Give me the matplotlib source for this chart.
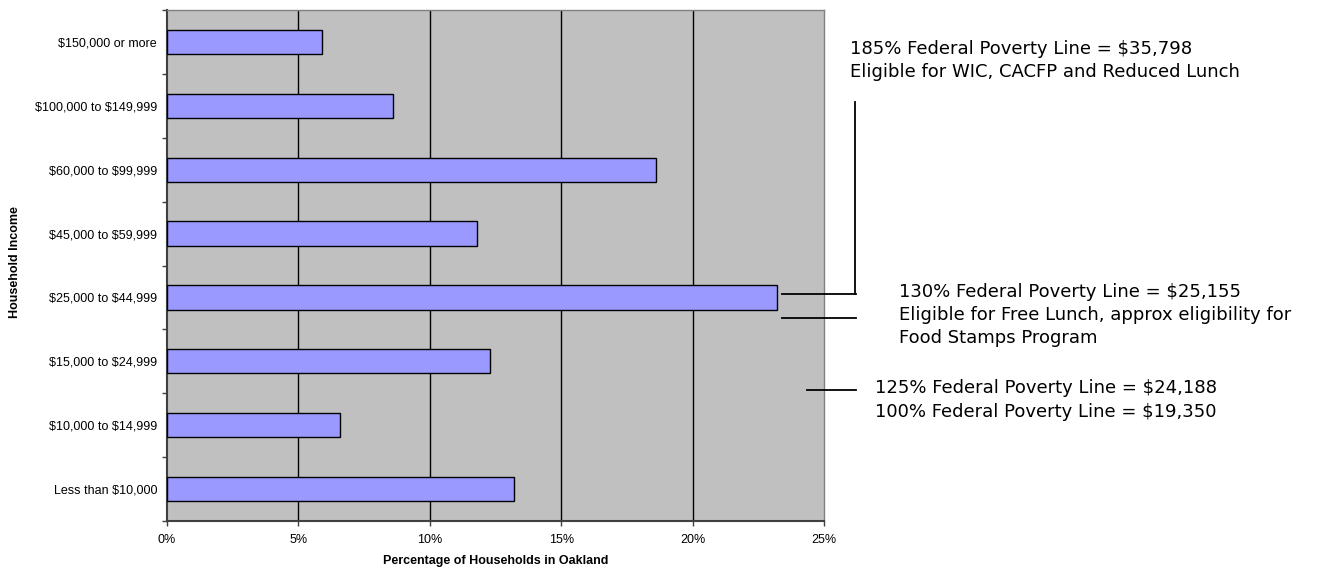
import matplotlib
matplotlib.use("Agg")
import matplotlib.pyplot as plt
from matplotlib.lines import Line2D
import numpy as np

categories = ["Less than $10,000", "$10,000 to $14,999", "$15,000 to $24,999",
              "$25,000 to $44,999", "$45,000 to $59,999", "$60,000 to $99,999",
              "$100,000 to $149,999", "$150,000 or more"]
values = [13.2, 6.6, 12.3, 23.2, 11.8, 18.6, 8.6, 5.9]
xticks = [0, 5, 10, 15, 20, 25]
xtick_labels = ["0%", "5%", "10%", "15%", "20%", "25%"]

W, H = 1339, 571
fig = plt.figure(figsize=(W / 100, H / 100), dpi=100)
fig.patch.set_facecolor("white")

def fx(px):
    return px / W

def fy(py):
    return 1 - py / H

L, R, T, B = 167, 824, 10, 521
ax = fig.add_axes([fx(L), fy(B), fx(R) - fx(L), fy(T) - fy(B)])
ax.set_facecolor("#C0C0C0")

y = np.arange(len(categories))
ax.barh(y, values, height=0.38, color="#9999FF", edgecolor="black", linewidth=1.0, zorder=3)

ax.set_xlim(0, 25)
ax.set_ylim(-0.5, len(categories) - 0.5)
ax.set_xticks(xticks)
ax.set_xticklabels(xtick_labels, fontsize=9, family="Liberation Sans")
ax.set_yticks(y)
ax.set_yticklabels([c.replace("$", r"\$") for c in categories], fontsize=9, family="Liberation Sans")
ax.tick_params(axis="y", which="major", length=0, pad=7.2)
ax.set_yticks(np.arange(-0.5, len(categories), 1.0), minor=True)
ax.tick_params(axis="y", which="minor", length=3.6, width=1, color="#404040", direction="out")
ax.tick_params(axis="x", which="major", length=3.6, width=1, color="#404040", direction="out", pad=6)

for xv in xticks[1:-1]:
    ax.axvline(xv, color="black", linewidth=1.0, zorder=1)

for side in ["top", "right"]:
    ax.spines[side].set_color("#808080")
    ax.spines[side].set_linewidth(1.0)
for side in ["left", "bottom"]:
    ax.spines[side].set_color("#404040")
    ax.spines[side].set_linewidth(1.5)

ax.set_xlabel("Percentage of Households in Oakland", fontsize=9, fontweight="bold",
              family="Liberation Sans", labelpad=6)
fig.text(fx(15), fy(262), "Household Income", rotation=90, fontsize=9, fontweight="bold",
         family="Liberation Sans", ha="center", va="center")

# annotation texts
afont = dict(fontsize=13, family="DejaVu Sans", color="black", va="center", ha="left")
fig.text(fx(850), fy(49), "185% Federal Poverty Line = $35,798", **afont)
fig.text(fx(850), fy(72), "Eligible for WIC, CACFP and Reduced Lunch", **afont)
fig.text(fx(899), fy(292), "130% Federal Poverty Line = $25,155", **afont)
fig.text(fx(899), fy(315), "Eligible for Free Lunch, approx eligibility for", **afont)
fig.text(fx(899), fy(338), "Food Stamps Program", **afont)
fig.text(fx(875), fy(388), "125% Federal Poverty Line = $24,188", **afont)
fig.text(fx(875), fy(412), "100% Federal Poverty Line = $19,350", **afont)

# connector lines
segs = [
    ([855, 855], [102, 294]),
    ([782, 856], [294, 294]),
    ([782, 856], [318, 318]),
    ([807, 856], [390, 390]),
]
for xs, ys in segs:
    fig.add_artist(Line2D([fx(v) for v in xs], [fy(v) for v in ys],
                          transform=fig.transFigure, color="black", linewidth=1.3))

fig.savefig("out.png", dpi=100)
